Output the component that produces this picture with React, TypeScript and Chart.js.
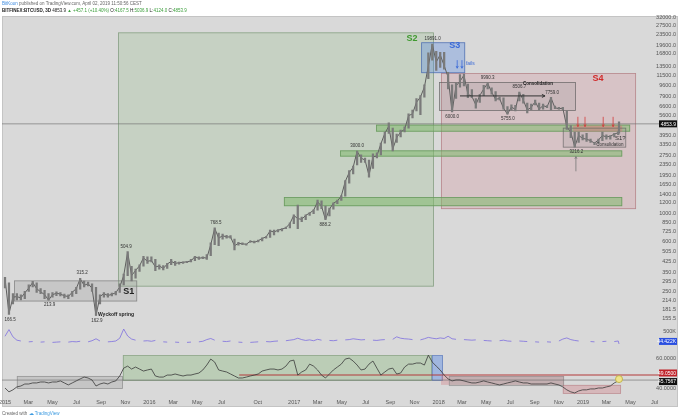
import React, { useEffect, useRef } from "react";
import { Chart, registerables } from "chart.js";

Chart.register(...registerables);

// ---------- DATA ----------
// day offsets from 2015-01-01 (category positions of every sample)
const dayOffsets = [
  0, 10, 20, 30, 40, 50, 60, 70, 80, 90,
  100, 110, 120, 130, 140, 150, 160, 170, 180, 190,
  200, 210, 220, 230, 240, 250, 260, 270, 280, 290,
  300, 310, 320, 330, 340, 350, 360, 370, 380, 390,
  400, 410, 420, 430, 440, 450, 460, 470, 480, 490,
  500, 510, 520, 530, 540, 550, 560, 570, 580, 590,
  600, 610, 620, 630, 640, 650, 660, 670, 680, 690,
  700, 710, 720, 730, 740, 750, 760, 770, 780, 790,
  800, 810, 820, 830, 840, 850, 860, 870, 880, 890,
  900, 910, 920, 930, 940, 950, 960, 970, 980, 990,
  1000, 1010, 1020, 1030, 1040, 1050, 1060, 1070, 1080, 1090,
  1100, 1110, 1120, 1130, 1140, 1150, 1160, 1170, 1180, 1190,
  1200, 1210, 1220, 1230, 1240, 1250, 1260, 1270, 1280, 1290,
  1300, 1310, 1320, 1330, 1340, 1350, 1360, 1370, 1380, 1390,
  1400, 1410, 1420, 1430, 1440, 1450, 1460, 1470, 1480, 1490,
  1500, 1510, 1520, 1530, 1540, 1550, 1552,
];

const btcClose = [
  315, 168, 225, 228, 222, 243, 265, 292, 262, 248,
  236, 214, 235, 242, 238, 231, 228, 246, 262, 312,
  278, 286, 264, 163, 228, 240, 232, 237, 244, 270,
  330, 500, 330, 362, 392, 452, 425, 432, 385, 392,
  375, 405, 425, 410, 415, 418, 422, 428, 462, 448,
  455, 450, 570, 765, 640, 670, 655, 655, 560, 585,
  580, 575, 608, 596, 612, 638, 655, 728, 715, 738,
  752, 770, 830, 960, 905, 895, 960, 1000, 1050, 1220,
  1130, 890, 1070, 1190, 1240, 1350, 1750, 2050, 2250, 2980,
  2650, 2550, 1950, 2700, 2750, 3400, 4100, 4650, 3100, 3800,
  4200, 4400, 5600, 5800, 7100, 7800, 9300, 13500, 19891, 14500,
  16500, 13600, 11100, 6000, 9500, 10300, 11500, 8200, 7900, 6800,
  8000, 9000, 9950, 8500, 7500, 7600, 6400, 5760, 6550, 6250,
  8450, 7400, 6200, 6500, 7200, 6300, 6700, 6550, 7700, 6450,
  6350, 6400, 4600, 4200, 3230, 3950, 3750, 3700, 3600, 3450,
  3650, 3950, 3850, 3900, 4050, 4150, 4853.9,
];

const btcLow = [
  265, 166, 200, 215, 215, 220, 250, 270, 245, 240,
  220, 214, 225, 232, 230, 222, 220, 228, 240, 260,
  270, 275, 250, 163, 200, 225, 225, 230, 235, 245,
  280, 330, 300, 315, 355, 390, 410, 420, 360, 370,
  365, 375, 400, 395, 405, 410, 415, 420, 430, 440,
  445, 440, 470, 570, 560, 630, 640, 640, 520, 565,
  570, 565, 595, 590, 600, 610, 640, 650, 680, 715,
  730, 760, 770, 830, 760, 860, 890, 960, 990, 1050,
  1080, 888, 950, 1070, 1180, 1250, 1350, 1700, 2000, 2350,
  2450, 2450, 1890, 2200, 2650, 2800, 3450, 4100, 3000, 3500,
  3850, 4200, 4500, 5400, 6100, 5700, 7800, 10800, 15000, 12500,
  13200, 12800, 9000, 6000, 7600, 9300, 9500, 7700, 7700, 6400,
  7100, 8000, 9000, 8200, 7300, 7400, 6300, 5755, 6200, 6100,
  7300, 7000, 5900, 6250, 6800, 6200, 6300, 6450, 6200, 6350,
  6300, 6200, 4400, 3800, 3216, 3500, 3650, 3550, 3500, 3350,
  3400, 3600, 3700, 3700, 3850, 4000, 4124,
];

const btcHigh = [
  320, 290, 240, 240, 235, 250, 280, 298, 290, 262,
  255, 240, 245, 248, 245, 238, 235, 250, 268, 315,
  300, 295, 285, 268, 235, 245, 240, 242, 250, 285,
  340, 505, 390, 370, 400, 465, 460, 460, 440, 400,
  395, 410, 440, 425, 420, 422, 425, 440, 465, 460,
  460, 480, 590, 768, 700, 690, 675, 670, 630, 595,
  590, 580, 612, 608, 620, 645, 660, 740, 740, 745,
  760, 780, 840, 970, 1150, 930, 970, 1010, 1060, 1260,
  1240, 1130, 1090, 1200, 1260, 1360, 1780, 2120, 2300, 3000,
  2800, 2650, 2550, 2850, 2900, 3450, 4200, 4950, 4500, 4050,
  4350, 4600, 5800, 6200, 7600, 8000, 9700, 17100, 19891, 17500,
  17200, 17200, 12100, 9700, 10000, 11600, 11700, 9800, 8900, 7600,
  8200, 9600, 9990, 9200, 8600, 7800, 7700, 6600, 6800, 6750,
  8506, 8200, 7000, 6900, 7400, 7000, 6900, 6700, 7759, 6650,
  6500, 6500, 6100, 4700, 4200, 4200, 4000, 4100, 3700, 3500,
  3700, 4200, 4000, 3950, 4100, 4200, 5037,
];

// volume in thousands (null = gap in the line)
const volumeK = [
  320, 560, 300, 180, 150, null, 120, 130, null, 110,
  120, null, 100, 110, 120, null, 110, 130, 120, 140,
  null, 120, 160, 230, 150, null, 120, 130, 150, 250,
  580, 330, 220, 180, null, 150, 160, 140, 170, null,
  120, 110, null, 110, 100, null, 100, 110, null, 120,
  140, 200, 240, 180, null, 140, 130, 150, null, 110,
  100, null, 100, 110, 120, null, 130, 120, 140, 150,
  null, 160, 180, 200, 250, 200, 170, 190, 160, 210,
  180, null, 170, 160, 180, null, 190, 200, 230, 210,
  190, 200, null, 180, 170, 190, 200, null, 210, 300,
  250, 230, 220, 200, null, 190, 230, 280, 250, 230,
  260, 240, 320, 230, 210, null, 200, 190, 180, 190,
  null, 170, 160, 150, null, 160, 180, 150, 140, null,
  150, 140, 130, null, 120, 110, null, 120, 110, null,
  150, 220, 260, 200, 170, 150, null, null, 130, 120,
  null, 130, 140, null, 130, 150, 44.422,
];

const oscValues = [
  40.6, 38.1, 39.4, 41.3, 41.9, 43.2, 43.2, 43.9, 43.9, 44.5,
  44.5, 43.9, 44.5, 44.5, 45.2, 43.9, 42.6, 43.9, 45.2, 46.5,
  47.7, 47.1, 45.8, 41.9, 43.2, 43.9, 43.2, 44.5, 45.2, 48.4,
  53.5, 54.8, 52.9, 54.2, 52.9, 51.6, 52.3, 52.9, 48.4, 47.7,
  47.7, 49.0, 49.0, 49.7, 49.0, 48.4, 49.0, 49.0, 49.7, 50.3,
  52.3, 55.5, 59.4, 57.4, 52.3, 51.6, 51.0, 49.7, 48.4, 47.1,
  47.1, 47.7, 48.4, 49.0, 49.7, 51.6, 52.3, 52.9, 52.9, 52.3,
  52.9, 54.8, 58.1, 58.7, 49.0, 51.0, 52.3, 56.1, 54.8, 52.3,
  49.0, 47.1, 49.7, 52.3, 54.2, 56.1, 59.4, 60.0, 58.1, 55.5,
  52.3, 52.9, 56.1, 58.1, 53.5, 49.0, 51.0, 52.9, 53.5, 49.7,
  50.3, 54.2, 56.1, 56.1, 56.8, 56.8, 55.5, 61.9, 57.4, 54.8,
  52.3, 49.0, 46.5, 45.2, 45.8, 45.8, 45.2, 44.5, 43.9, 43.9,
  44.5, 45.2, 44.5, 43.9, 43.2, 42.6, 43.2, 43.9, 44.5, 45.2,
  44.5, 43.9, 43.9, 43.2, 43.2, 43.2, 43.2, 43.2, 43.9, 43.2,
  42.6, 41.3, 39.4, 38.1, 37.4, 38.7, 39.4, 39.4, 40.0, 40.0,
  40.6, 40.6, 41.3, 41.9, 43.9, 45.2, 45.7567,
];

const xTickDays = [0, 59, 120, 181, 243, 304, 365, 425, 486, 547, 639, 731, 790, 851, 912, 974, 1035, 1096, 1155, 1216, 1277, 1339, 1400, 1461, 1520, 1581, 1642];
const xTickLabels = ["2015", "Mar", "May", "Jul", "Sep", "Nov", "2016", "Mar", "May", "Jul", "Oct", "2017", "Mar", "May", "Jul", "Sep", "Nov", "2018", "Mar", "May", "Jul", "Sep", "Nov", "2019", "Mar", "May", "Jul"];
const priceTicks = [32000, 27500, 23500, 19600, 16800, 13500, 11500, 9600, 7900, 6600, 5600, 3950, 3350, 2750, 2350, 1950, 1650, 1400, 1200, 1000, 850, 725, 600, 505, 425, 350, 295, 250, 214, 181.5, 155.5];
const volumeTicks = [500];
const oscTicks = [40, 60];

const lastPrice = 4853.9;
const lastVolumeK = 44.422;
const oscRedLevel = 49.05;
const oscRedStartDay = 592;

// annotated extreme labels
const priceLabelTexts = ["166.5", "213.9", "315.2", "162.9", "504.9", "768.5", "888.2", "3000.0", "19891.0", "6000.0", "9990.3", "5755.0", "8506.7", "7759.0", "3216.2"];
const priceLabelDays = [13, 113, 195, 232, 306, 533, 809, 890, 1081, 1130, 1220, 1271, 1300, 1383, 1444];
const priceLabelValues = [166.5, 213.9, 315.2, 162.9, 504.9, 768.5, 888.2, 3000, 19891, 6000, 9990.3, 5755, 8506.7, 7759, 3216.2];
const priceLabelAbove = [false, false, true, false, true, true, false, true, true, false, true, false, true, true, false];

// boxes: [startDay, endDay, lowValue, highValue]
const boxS1 = [23, 334, 209, 303];
const boxS2 = [286, 1084, 272, 24500];
const boxS3 = [1052, 1163, 11920, 20560];
const boxS4 = [1102, 1595, 1073, 11920];
const boxCons2018 = [1097, 1443, 6110, 10180];
const zoneA = [938, 1580, 4230, 4780];
const zoneB = [847, 1560, 2720, 3030];
const zoneC = [705, 1560, 1130, 1325];
const zoneRed = [1436, 1560, 4230, 4700];
const boxCons2019 = [1410, 1570, 3190, 4530];
const oscBoxGray = [30, 298, 40.0, 48.4];
const oscBoxGreen = [298, 1079, 45.2, 61.9];
const oscBoxBlue = [1079, 1107, 45.2, 61.9];
const oscBoxPink = [1102, 1413, 42.6, 48.4];
const oscBoxGray2 = [1122, 1413, 41.9, 48.4];
const oscBoxPink2 = [1410, 1557, 36.8, 42.6];

// arrows: [day, fromValue, toValue]
const redArrowDays = [1448, 1466, 1512, 1537];
const redArrowRange = [5500, 4620];
const failArrowDays = [1143, 1155];
const failArrowRange = [15000, 13000];
const upArrow = [1443, 2094, 2720];
const consArrow = [1150, 1365, 7960];

// phase / note texts: [day, value]
const phaseS1 = [313, 249];
const phaseS2 = [1029, 22070];
const phaseS3 = [1137, 19500];
const phaseS4 = [1499, 10920];
const noteCons2018 = [1347, 9820];
const noteCons2019 = [1529, 3365];
const noteS1q = [1555, 3740];
const noteWyckoff = [235, 166.5];
const noteFails = [1165, 14000];

// ---------- DRAWING HELPERS ----------
const FONT = '"Liberation Sans", Arial, sans-serif';

function rectOf(chart: any, axis: string, b: number[]) {
  const xs = chart.scales.x;
  const ys = chart.scales[axis];
  const x1 = xs.getPixelForValue(b[0]);
  const x2 = xs.getPixelForValue(b[1]);
  const y1 = ys.getPixelForValue(b[2]);
  const y2 = ys.getPixelForValue(b[3]);
  return [Math.min(x1, x2), Math.min(y1, y2), Math.abs(x2 - x1), Math.abs(y2 - y1)];
}

function drawBox(ctx: CanvasRenderingContext2D, chart: any, axis: string, b: number[], fill: string, stroke?: string) {
  const [x, y, w, h] = rectOf(chart, axis, b);
  ctx.fillStyle = fill;
  ctx.fillRect(x, y, w, h);
  if (stroke) {
    ctx.strokeStyle = stroke;
    ctx.lineWidth = 0.8;
    ctx.strokeRect(x + 0.4, y + 0.4, w - 0.8, h - 0.8);
  }
}

function drawArrow(ctx: CanvasRenderingContext2D, x1: number, y1: number, x2: number, y2: number, color: string, head = 3, width = 0.8) {
  ctx.strokeStyle = color;
  ctx.fillStyle = color;
  ctx.lineWidth = width;
  ctx.beginPath();
  ctx.moveTo(x1, y1);
  ctx.lineTo(x2, y2);
  ctx.stroke();
  const ang = Math.atan2(y2 - y1, x2 - x1);
  ctx.beginPath();
  ctx.moveTo(x2, y2);
  ctx.lineTo(x2 - head * Math.cos(ang - 0.45), y2 - head * Math.sin(ang - 0.45));
  ctx.moveTo(x2, y2);
  ctx.lineTo(x2 - head * Math.cos(ang + 0.45), y2 - head * Math.sin(ang + 0.45));
  ctx.stroke();
}

function text(ctx: CanvasRenderingContext2D, s: string, x: number, y: number, font: string, color: string, align: CanvasTextAlign = "center") {
  ctx.font = font;
  ctx.fillStyle = color;
  ctx.textAlign = align;
  ctx.textBaseline = "middle";
  ctx.fillText(s, x, y);
}

function tag(ctx: CanvasRenderingContext2D, right: number, y: number, s: string, bg: string, fg: string) {
  ctx.font = `5px ${FONT}`;
  const w = 18;
  ctx.fillStyle = bg;
  ctx.fillRect(right - w, y - 3.5, w, 7);
  ctx.fillStyle = fg;
  ctx.textAlign = "right";
  ctx.textBaseline = "middle";
  ctx.fillText(s, right - 1, y + 0.3);
}

const overlayPlugin = {
  id: "overlay",
  beforeDraw(chart: any) {
    const ctx = chart.ctx as CanvasRenderingContext2D;
    ctx.save();
    ctx.fillStyle = "#ffffff";
    ctx.fillRect(0, 0, chart.width, chart.height);
    ctx.fillStyle = "#d9d9d9";
    ctx.fillRect(2, 16, 676, 391);
    ctx.strokeStyle = "#c4c4c4";
    ctx.lineWidth = 1;
    ctx.strokeRect(2.5, 16.5, 675, 390);
    ctx.restore();
  },
  beforeDatasetsDraw(chart: any) {
    const ctx = chart.ctx as CanvasRenderingContext2D;
    ctx.save();
    drawBox(ctx, chart, "y", boxS2, "rgba(150,190,140,0.28)", "rgba(110,140,105,0.7)");
    drawBox(ctx, chart, "y", boxS1, "rgba(160,160,160,0.30)", "rgba(110,110,110,0.7)");
    drawBox(ctx, chart, "y", boxS4, "rgba(210,120,130,0.22)", "rgba(170,110,115,0.7)");
    drawBox(ctx, chart, "y", boxCons2018, "rgba(140,140,140,0.18)", "rgba(80,80,80,0.7)");
    drawBox(ctx, chart, "y", boxS3, "rgba(90,140,230,0.35)", "rgba(70,100,170,0.8)");
    drawBox(ctx, chart, "y", zoneC, "rgba(130,185,110,0.55)", "rgba(100,150,90,0.9)");
    drawBox(ctx, chart, "y", zoneB, "rgba(130,185,110,0.55)", "rgba(100,150,90,0.9)");
    drawBox(ctx, chart, "y", zoneA, "rgba(130,185,110,0.55)", "rgba(100,150,90,0.9)");
    drawBox(ctx, chart, "y", zoneRed, "rgba(225,110,115,0.45)");
    drawBox(ctx, chart, "y", boxCons2019, "rgba(150,150,150,0.18)", "rgba(90,90,90,0.7)");

    drawBox(ctx, chart, "yOsc", oscBoxGray, "rgba(160,160,160,0.35)", "rgba(120,120,120,0.6)");
    drawBox(ctx, chart, "yOsc", oscBoxGreen, "rgba(150,190,140,0.45)", "rgba(110,140,105,0.6)");
    drawBox(ctx, chart, "yOsc", oscBoxBlue, "rgba(90,140,230,0.45)", "rgba(70,100,170,0.6)");
    drawBox(ctx, chart, "yOsc", oscBoxPink, "rgba(210,120,130,0.35)");
    drawBox(ctx, chart, "yOsc", oscBoxGray2, "rgba(160,160,160,0.35)", "rgba(120,120,120,0.5)");
    drawBox(ctx, chart, "yOsc", oscBoxPink2, "rgba(210,120,130,0.35)", "rgba(170,110,115,0.5)");

    // current price line
    const area = chart.chartArea;
    const yP = chart.scales.y.getPixelForValue(lastPrice);
    ctx.strokeStyle = "rgba(110,110,110,0.8)";
    ctx.lineWidth = 0.8;
    ctx.beginPath();
    ctx.moveTo(area.left, yP);
    ctx.lineTo(area.right, yP);
    ctx.stroke();

    // oscillator current-value line and red level
    const yO = chart.scales.yOsc.getPixelForValue(oscValues[oscValues.length - 1]);
    ctx.strokeStyle = "rgba(110,110,110,0.8)";
    ctx.beginPath();
    ctx.moveTo(area.left, yO);
    ctx.lineTo(area.right, yO);
    ctx.stroke();
    const yR = chart.scales.yOsc.getPixelForValue(oscRedLevel);
    ctx.strokeStyle = "#b33a3a";
    ctx.lineWidth = 1.2;
    ctx.beginPath();
    ctx.moveTo(chart.scales.x.getPixelForValue(oscRedStartDay), yR);
    ctx.lineTo(area.right, yR);
    ctx.stroke();
    ctx.restore();
  },
  afterDatasetsDraw(chart: any) {
    const ctx = chart.ctx as CanvasRenderingContext2D;
    const xs = chart.scales.x;
    const ys = chart.scales.y;
    ctx.save();
    // price extreme labels
    priceLabelTexts.forEach((s, i) => {
      const x = xs.getPixelForValue(priceLabelDays[i]);
      const y = ys.getPixelForValue(priceLabelValues[i]) + (priceLabelAbove[i] ? -5 : 5);
      text(ctx, s, x, y, `4.5px ${FONT}`, "#333");
    });
    // phase labels
    text(ctx, "S1", xs.getPixelForValue(phaseS1[0]), ys.getPixelForValue(phaseS1[1]), `bold 9px ${FONT}`, "#222");
    text(ctx, "S2", xs.getPixelForValue(phaseS2[0]), ys.getPixelForValue(phaseS2[1]), `bold 9px ${FONT}`, "#3f9a2f");
    text(ctx, "S3", xs.getPixelForValue(phaseS3[0]), ys.getPixelForValue(phaseS3[1]), `bold 9px ${FONT}`, "#3a6ad8");
    text(ctx, "S4", xs.getPixelForValue(phaseS4[0]), ys.getPixelForValue(phaseS4[1]), `bold 9px ${FONT}`, "#d12b2b");
    text(ctx, "Consolidation", xs.getPixelForValue(noteCons2018[0]), ys.getPixelForValue(noteCons2018[1]), `bold 4.5px ${FONT}`, "#222");
    text(ctx, "Consolidation", xs.getPixelForValue(noteCons2019[0]), ys.getPixelForValue(noteCons2019[1]), `4.5px ${FONT}`, "#333");
    text(ctx, "S1?", xs.getPixelForValue(noteS1q[0]), ys.getPixelForValue(noteS1q[1]), `6px ${FONT}`, "#333");
    text(ctx, "Wyckoff spring", xs.getPixelForValue(noteWyckoff[0]), ys.getPixelForValue(noteWyckoff[1]), `bold 5px ${FONT}`, "#222", "left");
    text(ctx, "fails", xs.getPixelForValue(noteFails[0]), ys.getPixelForValue(noteFails[1]), `5px ${FONT}`, "#3a6ad8", "left");

    // arrows
    redArrowDays.forEach((d) => {
      const x = xs.getPixelForValue(d);
      drawArrow(ctx, x, ys.getPixelForValue(redArrowRange[0]), x, ys.getPixelForValue(redArrowRange[1]), "#d23a3a", 2.5);
    });
    failArrowDays.forEach((d) => {
      const x = xs.getPixelForValue(d);
      drawArrow(ctx, x, ys.getPixelForValue(failArrowRange[0]), x, ys.getPixelForValue(failArrowRange[1]), "#3a6ad8", 2.5);
    });
    {
      const x = xs.getPixelForValue(upArrow[0]);
      drawArrow(ctx, x, ys.getPixelForValue(upArrow[1]), x, ys.getPixelForValue(upArrow[2]), "#777", 2.5);
    }
    {
      const y = ys.getPixelForValue(consArrow[2]);
      drawArrow(ctx, xs.getPixelForValue(consArrow[0]), y, xs.getPixelForValue(consArrow[1]), y, "#333", 3.5, 1);
    }

    // yellow marker at last oscillator point
    const lx = xs.getPixelForValue(dayOffsets[dayOffsets.length - 1]);
    const ly = chart.scales.yOsc.getPixelForValue(oscValues[oscValues.length - 1]);
    ctx.beginPath();
    ctx.arc(lx, ly - 1, 3.5, 0, Math.PI * 2);
    ctx.fillStyle = "#efe38a";
    ctx.fill();
    ctx.strokeStyle = "#b8a93a";
    ctx.lineWidth = 0.8;
    ctx.stroke();
    ctx.restore();
  },
  afterDraw(chart: any) {
    const ctx = chart.ctx as CanvasRenderingContext2D;
    const right = chart.chartArea.right + 1;
    ctx.save();
    tag(ctx, right, chart.scales.y.getPixelForValue(lastPrice), lastPrice.toFixed(1), "#111", "#fff");
    tag(ctx, right, chart.scales.yVol.getPixelForValue(lastVolumeK) - 2.5, `${lastVolumeK.toFixed(3)}K`, "#2a4fe0", "#fff");
    tag(ctx, right, chart.scales.yOsc.getPixelForValue(oscRedLevel) - 2, oscRedLevel.toFixed(4), "#c0232a", "#fff");
    tag(ctx, right, chart.scales.yOsc.getPixelForValue(oscValues[oscValues.length - 1]) + 1.5, oscValues[oscValues.length - 1].toFixed(4), "#111", "#fff");
    ctx.restore();
  },
};

const axisFont = { family: FONT, size: 5.5 };

export default function App() {
  const ref = useRef<HTMLCanvasElement>(null);
  useEffect(() => {
    document.body.style.margin = "0";
    const canvas = ref.current;
    if (!canvas) return;
    const chart = new Chart(canvas, {
      type: "line",
      data: {
        datasets: [
          {
            type: "bar",
            label: "BTCUSD range",
            data: dayOffsets.map((d, i) => ({ x: d, y: [btcLow[i], btcHigh[i]] })),
            yAxisID: "y",
            backgroundColor: "#7a7a7a",
            borderWidth: 0,
            barThickness: 1.6,
            grouped: false,
          },
          {
            label: "BTCUSD",
            data: dayOffsets.map((d, i) => ({ x: d, y: btcClose[i] })),
            yAxisID: "y",
            borderColor: "#5e5e5e",
            borderWidth: 1,
            pointRadius: 0,
            tension: 0,
          },
          {
            label: "Volume",
            data: dayOffsets.map((d, i) => ({ x: d, y: volumeK[i] })),
            yAxisID: "yVol",
            borderColor: "#7d6fe0",
            borderWidth: 0.8,
            pointRadius: 0,
            spanGaps: false,
          },
          {
            label: "Oscillator",
            data: dayOffsets.map((d, i) => ({ x: d, y: oscValues[i] })),
            yAxisID: "yOsc",
            borderColor: "#3a3a3a",
            borderWidth: 0.8,
            pointRadius: 0,
          },
        ],
      } as any,
      options: {
        responsive: false,
        maintainAspectRatio: false,
        animation: false,
        events: [],
        layout: { padding: { left: 2, right: 4, top: 17, bottom: 9.5 } },
        plugins: { legend: { display: false }, tooltip: { enabled: false }, title: { display: false } },
        scales: {
          x: {
            type: "linear",
            min: -7.6,
            max: 1696,
            offset: false,
            grid: { display: false, drawTicks: false, offset: false },
            border: { display: false },
            afterBuildTicks: (scale: any) => {
              scale.ticks = xTickDays.map((v) => ({ value: v }));
            },
            afterFit: (scale: any) => {
              scale.paddingLeft = 0;
              scale.paddingRight = 0;
            },
            ticks: {
              autoSkip: false,
              maxRotation: 0,
              padding: 3.5,
              color: "#555",
              font: axisFont,
              callback: (_v: any, i: number) => xTickLabels[i],
            },
          },
          y: {
            type: "logarithmic",
            position: "right",
            stack: "panes",
            stackWeight: 310,
            min: 137,
            max: 32200,
            bounds: "data",
            grid: { display: false, drawTicks: false },
            border: { display: false },
            afterBuildTicks: (scale: any) => {
              scale.ticks = priceTicks.map((v) => ({ value: v }));
            },
            ticks: {
              mirror: true,
              padding: 0,
              autoSkip: false,
              color: "#555",
              font: axisFont,
              callback: (v: any) => Number(v).toFixed(1),
            },
          },
          yVol: {
            type: "linear",
            position: "right",
            stack: "panes",
            stackWeight: 24,
            min: -143,
            max: 714,
            grid: { display: false, drawTicks: false },
            border: { display: false },
            afterBuildTicks: (scale: any) => {
              scale.ticks = volumeTicks.map((v) => ({ value: v }));
            },
            ticks: {
              mirror: true,
              padding: 0,
              autoSkip: false,
              color: "#555",
              font: axisFont,
              callback: (v: any) => `${v}K`,
            },
          },
          yOsc: {
            type: "linear",
            position: "right",
            stack: "panes",
            stackWeight: 47,
            min: 35.48,
            max: 65.81,
            grid: { display: false, drawTicks: false },
            border: { display: false },
            afterBuildTicks: (scale: any) => {
              scale.ticks = oscTicks.map((v) => ({ value: v }));
            },
            ticks: {
              mirror: true,
              padding: 0,
              autoSkip: false,
              color: "#555",
              font: axisFont,
              callback: (v: any) => Number(v).toFixed(4),
            },
          },
        },
      } as any,
      plugins: [overlayPlugin as any],
    });
    return () => chart.destroy();
  }, []);

  const green = { color: "#3b9e3b" };
  return (
    <div style={{ position: "fixed", left: 0, top: 0, width: 680, height: 419, background: "#fff", overflow: "hidden", fontFamily: FONT }}>
      <canvas ref={ref} width={680} height={419} style={{ position: "absolute", left: 0, top: 0, width: 680, height: 419 }} />
      <div style={{ position: "absolute", left: 2, top: 1, fontSize: 4.5, lineHeight: "5px", color: "#666", whiteSpace: "nowrap" }}>
        <span style={{ color: "#3d8be0" }}>BitKoon</span> published on TradingView.com, April 02, 2019 11:50:56 CEST
      </div>
      <div style={{ position: "absolute", left: 2, top: 7.5, fontSize: 4.5, lineHeight: "5px", color: "#222", whiteSpace: "nowrap" }}>
        <b>BITFINEX:BTCUSD, 3D</b> 4853.9 <span style={green}>▲</span> <span style={green}>+457.1 (+10.40%)</span> O:<span style={green}>4167.5</span> H:<span style={green}>5036.9</span> L:<span style={green}>4124.0</span> C:<span style={green}>4853.9</span>
      </div>
      <div style={{ position: "absolute", left: 2, top: 410.5, fontSize: 4.5, lineHeight: "5px", color: "#666", whiteSpace: "nowrap" }}>
        Created with <span style={{ color: "#3d9be0" }}>☁ TradingView</span>
      </div>
    </div>
  );
}
